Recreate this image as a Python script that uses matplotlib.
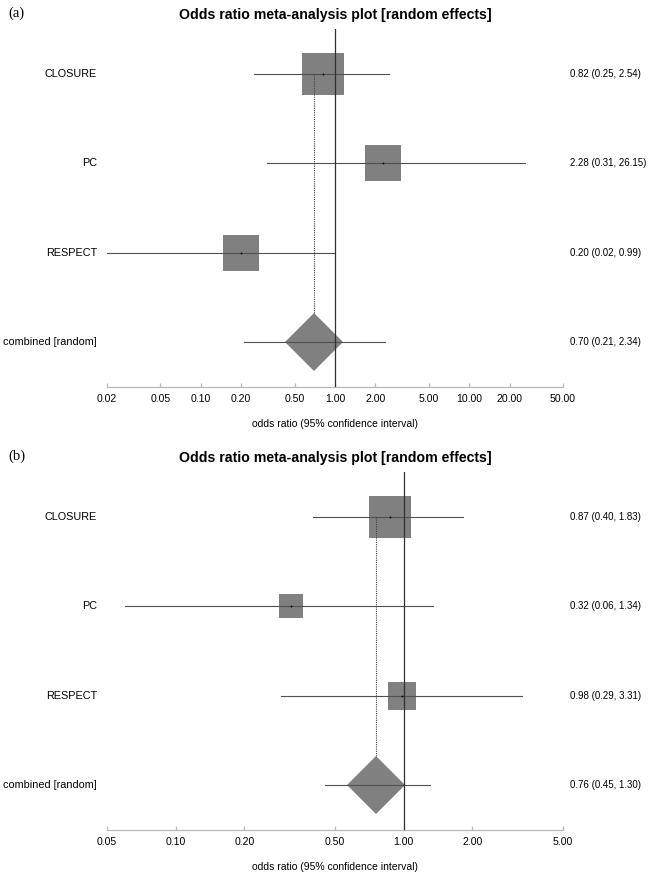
import matplotlib
matplotlib.use("Agg")
import matplotlib.pyplot as plt
import matplotlib.transforms as mtransforms
import numpy as np

# Study rows (top to bottom), pooled row last
studies = ["CLOSURE", "PC", "RESPECT"]
pooled_label = "combined [random]"

# Panel (a)
or_a = [0.82, 2.28, 0.20]
lo_a = [0.25, 0.31, 0.02]
hi_a = [2.54, 26.15, 0.99]
weight_a = [41.5, 27.5, 30.7]
pooled_a = (0.70, 0.21, 2.34)
ticks_a = [0.02, 0.05, 0.10, 0.20, 0.50, 1.00, 2.00, 5.00, 10.00, 20.00, 50.00]

# Panel (b)
or_b = [0.87, 0.32, 0.98]
lo_b = [0.40, 0.06, 0.29]
hi_b = [1.83, 1.34, 3.31]
weight_b = [56.6, 17.6, 25.7]
pooled_b = (0.76, 0.45, 1.30)
ticks_b = [0.05, 0.10, 0.20, 0.50, 1.00, 2.00, 5.00]

W, H = 655, 875
plt.rcParams['font.family'] = ['Liberation Sans', 'DejaVu Sans']

fig = plt.figure(figsize=(W / 100, H / 100), dpi=100)

BOX_COLOR = "#808080"
LINE_COLOR = "#505050"
MAX_BOX_PX = 43
DIAMOND_PX = 58


def px(v):
    # pixels -> points at 100 dpi
    return v * 0.72


def forest(top_px, panel, est, lo, hi, weights, pooled, ticks):
    ax = fig.add_axes([107 / W, (H - top_px - 357.4) / H, 456 / W, 357.4 / H])
    n = len(est)
    ys = np.arange(n + 1, 1, -1)  # study rows 4,3,2 ; pooled at 1

    wmax = max(weights)
    for y, e, l, h, w in zip(ys, est, lo, hi, weights):
        side = MAX_BOX_PX * np.sqrt(w / wmax)
        ax.plot([e], [y], marker='s', ms=px(side), color=BOX_COLOR, mew=0, zorder=1)
        ax.plot([l, h], [y, y], color=LINE_COLOR, lw=0.8, zorder=3)
        ax.plot([e], [y], marker='o', ms=1.3, color='black', mew=0, zorder=4)

    pe, pl, ph = pooled
    ax.plot([pe], [1], marker='D', ms=px(DIAMOND_PX / np.sqrt(2)), color=BOX_COLOR,
            mew=0, zorder=1)
    ax.plot([pl, ph], [1, 1], color=LINE_COLOR, lw=0.8, zorder=3)
    # dotted line at pooled estimate from first study down to diamond top
    ax.plot([pe, pe], [ys[0], 1 + (DIAMOND_PX / 2) / 89.35], color="#404040",
            lw=0.8, ls=(0, (1, 1)), zorder=3)
    ax.axvline(1.0, color="#303030", lw=0.9, zorder=3)

    ax.set_xscale('log')
    ax.set_xlim(ticks[0], ticks[-1])
    ax.set_ylim(0.5, n + 1.5)
    ax.set_xticks(ticks)
    ax.set_xticklabels([f"{t:.2f}" for t in ticks])
    ax.minorticks_off()
    ax.set_yticks([])
    for s in ['top', 'left', 'right']:
        ax.spines[s].set_visible(False)
    ax.spines['bottom'].set_color("#b8b8b8")
    ax.spines['bottom'].set_linewidth(0.9)
    ax.tick_params(axis='x', direction='in', length=3, width=0.9, color="#b8b8b8",
                   labelsize=7.6, pad=5)
    ax.set_xlabel("odds ratio (95% confidence interval)", fontsize=7.5, labelpad=11)

    lab_tr = mtransforms.blended_transform_factory(fig.transFigure, ax.transData)
    labels = studies + [pooled_label]
    all_e = list(est) + [pe]
    all_l = list(lo) + [pl]
    all_h = list(hi) + [ph]
    for y, name, e, l, h in zip(list(ys) + [1], labels, all_e, all_l, all_h):
        ax.text(97 / W, y, name, transform=lab_tr, ha='right', va='center',
                fontsize=7.8)
        ax.text(570 / W, y, f"{e:.2f} ({l:.2f}, {h:.2f})", transform=lab_tr,
                ha='left', va='center', fontsize=7.0)

    fig.text(335 / W, 1 - (top_px - 14.5) / H, "Odds ratio meta-analysis plot [random effects]",
             ha='center', va='center', fontsize=10.2, fontweight='bold')
    fig.text(8 / W, 1 - (top_px - 16.5) / H, panel, ha='left', va='center',
             fontsize=10.5, family='Liberation Serif')
    return ax


forest(29.3, "(a)", or_a, lo_a, hi_a, weight_a, pooled_a, ticks_a)
forest(472.3, "(b)", or_b, lo_b, hi_b, weight_b, pooled_b, ticks_b)

fig.savefig("out.png", dpi=100, facecolor='white')
